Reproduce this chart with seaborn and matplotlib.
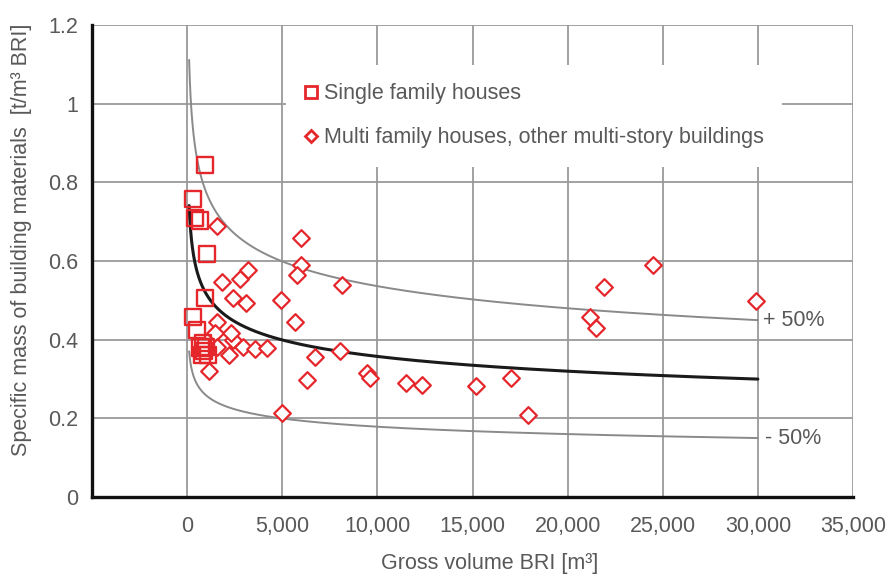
import numpy as np
import pandas as pd
import matplotlib
matplotlib.use("Agg")
import matplotlib.pyplot as plt
from matplotlib.lines import Line2D
import seaborn as sns

# Single family houses: gross volume BRI [m3] and specific material mass [t/m3 BRI]
sfh_volume = [950, 330, 420, 680, 1030, 950, 330, 510, 700, 900, 1000, 800, 1100, 850]
sfh_mass = [0.843, 0.758, 0.710, 0.703, 0.618, 0.505, 0.458, 0.425, 0.380, 0.372, 0.382, 0.360, 0.362, 0.392]

# Multi family houses and other multi-story buildings
mfh_volume = [1560, 1820, 2780, 3180, 2430, 3090, 1560, 1470, 2430, 2330, 1560, 2960,
              3570, 4180, 2220, 1160, 5990, 6000, 5800, 8120, 4930, 5670, 6720, 8030,
              6300, 9430, 9600, 4970, 11530, 12320, 15200, 17040, 17910, 24470, 21930,
              21150, 21500, 29890]
mfh_mass = [0.690, 0.547, 0.555, 0.578, 0.507, 0.492, 0.446, 0.416, 0.400, 0.418, 0.382, 0.382,
            0.376, 0.378, 0.361, 0.321, 0.659, 0.589, 0.564, 0.538, 0.500, 0.446, 0.357, 0.370,
            0.298, 0.315, 0.303, 0.213, 0.289, 0.285, 0.281, 0.302, 0.209, 0.591, 0.534,
            0.458, 0.429, 0.498]

# Power-law trend line  m = a * V^b  with a +/-50 % band
trend_coef = 1.56
trend_exp = -0.16
band = 0.5
trend_range = (105, 30000)

series_labels = ["Single family houses", "Multi family houses, other multi-story buildings"]
band_labels = ["+ 50%", "- 50%"]
x_ticks = [0, 5000, 10000, 15000, 20000, 25000, 30000, 35000]
y_ticks = [0, 0.2, 0.4, 0.6, 0.8, 1.0, 1.2]

sns.set_theme(style="white")
plt.rcParams["font.family"] = ["Liberation Sans", "DejaVu Sans"]

TEXT = "#595959"
RED = "#e5262b"
FS = 15.5

fig = plt.figure(figsize=(8.91, 5.82), dpi=100)
ax = fig.add_axes([92 / 891, 1 - 497 / 582, (853 - 92) / 891, (497 - 25) / 582])

# trend curves
v = np.geomspace(trend_range[0], trend_range[1], 400)
mid = trend_coef * v ** trend_exp
curves = pd.DataFrame({"v": v, "mid": mid, "hi": mid * (1 + band), "lo": mid * (1 - band)})
sns.lineplot(data=curves, x="v", y="hi", color="#8a8a8a", lw=1.4, ax=ax, zorder=3)
sns.lineplot(data=curves, x="v", y="lo", color="#8a8a8a", lw=1.4, ax=ax, zorder=3)
sns.lineplot(data=curves, x="v", y="mid", color="#1a1a1a", lw=2.2, ax=ax, zorder=3)

# building data
sfh = pd.DataFrame({"v": sfh_volume, "m": sfh_mass})
mfh = pd.DataFrame({"v": mfh_volume, "m": mfh_mass})
sns.scatterplot(data=mfh, x="v", y="m", marker="D", s=72, facecolor="white",
                edgecolor=RED, linewidth=1.6, ax=ax, zorder=4, legend=False)
sns.scatterplot(data=sfh, x="v", y="m", marker="s", s=135, facecolor="none",
                edgecolor=RED, linewidth=1.7, ax=ax, zorder=5, legend=False)

# band labels at the end of the curves
end_mid = trend_coef * trend_range[1] ** trend_exp
ax.text(trend_range[1] + 250, end_mid * (1 + band), band_labels[0], color=TEXT,
        fontsize=FS, va="center", ha="left")
ax.text(trend_range[1] + 400, end_mid * (1 - band), band_labels[1], color=TEXT,
        fontsize=FS, va="center", ha="left")

ax.set_xlim(-5000, 35000)
ax.set_ylim(0, 1.2)
ax.set_xticks(x_ticks)
ax.set_xticklabels([f"{t:,}" for t in x_ticks])
ax.set_yticks(y_ticks)
ax.set_yticklabels(["0", "0.2", "0.4", "0.6", "0.8", "1", "1.2"])
ax.tick_params(axis="both", length=0, labelsize=FS, labelcolor=TEXT)
ax.tick_params(axis="x", pad=14)
ax.tick_params(axis="y", pad=10)

ax.grid(True, color="#9a9a9a", lw=1.3)
ax.set_axisbelow(True)
for side in ("top", "right"):
    ax.spines[side].set_visible(False)
for side in ("left", "bottom"):
    ax.spines[side].set_color("#111111")
    ax.spines[side].set_linewidth(2.4)

ax.set_xlabel("Gross volume BRI [m³]", fontsize=FS, color=TEXT)
ax.set_ylabel("Specific mass of building materials  [t/m³ BRI]", fontsize=FS, color=TEXT)
ax.xaxis.set_label_coords(0.522, -0.14)
ax.yaxis.set_label_coords(-0.092, 0.545)
ax.xaxis.label.set_va("center")
ax.yaxis.label.set_va("center")

handles = [
    Line2D([], [], ls="none", marker="s", ms=8, mfc="white", mec=RED, mew=2.0),
    Line2D([], [], ls="none", marker="D", ms=6, mfc="white", mec=RED, mew=2.0),
]
leg = ax.legend(handles, series_labels, loc="upper left", bbox_to_anchor=(0.255, 0.915),
                fontsize=FS, frameon=True, facecolor="white", edgecolor="none", framealpha=1,
                handlelength=0.6, handletextpad=0.3, labelspacing=1.07, borderpad=0.85,
                borderaxespad=0)
for t in leg.get_texts():
    t.set_color(TEXT)
leg.get_frame().set_linewidth(0)

fig.savefig("out.png", dpi=100, facecolor="white")
